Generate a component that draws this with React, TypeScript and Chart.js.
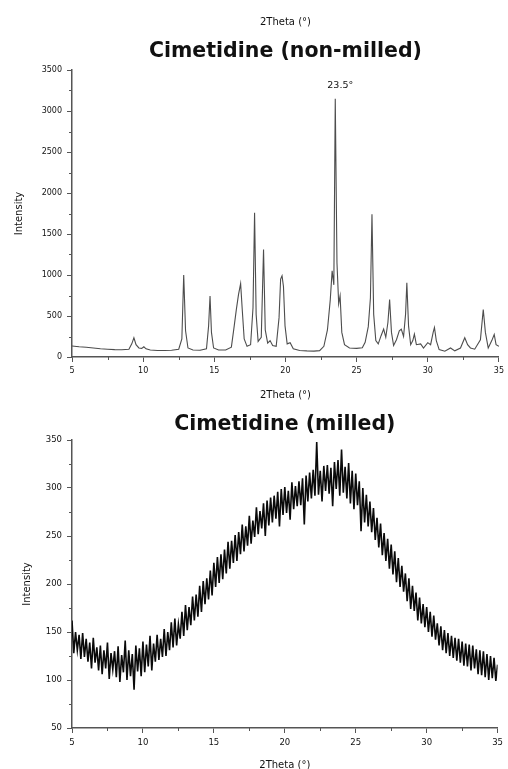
import React, { useEffect, useRef } from "react";
import { Chart, registerables } from "chart.js";

Chart.register(...registerables);

const FONT = '"DejaVu Sans", "Liberation Sans", sans-serif';
const TEXT_COLOR = "#111111";
const AXIS_COLOR = "#555555";

// ---------- Non-milled cimetidine (crystalline) ----------
const nonMilledTheta = [
  5.0, 5.5, 6.0, 6.5, 7.0, 7.5, 8.0, 8.5, 9.0, 9.2,
  9.35, 9.5, 9.7, 9.9, 10.05, 10.2, 10.5, 11.0, 11.5, 12.0,
  12.5, 12.72, 12.85, 12.98, 13.15, 13.5, 14.0, 14.45, 14.6, 14.7,
  14.8, 14.95, 15.3, 15.8, 16.2, 16.4, 16.55, 16.7, 16.85, 16.97,
  17.1, 17.3, 17.55, 17.72, 17.83, 17.94, 18.08, 18.3, 18.46, 18.58,
  18.75, 18.92, 19.1, 19.35, 19.55, 19.66, 19.76, 19.86, 19.97, 20.12,
  20.33, 20.55, 21.0, 21.5, 22.0, 22.4, 22.7, 22.95, 23.15, 23.28,
  23.4, 23.5, 23.62, 23.74, 23.84, 23.96, 24.15, 24.5, 25.0, 25.4,
  25.6, 25.82, 25.97, 26.08, 26.2, 26.35, 26.52, 26.72, 26.9, 27.05,
  27.2, 27.32, 27.45, 27.6, 27.8, 28.0, 28.14, 28.3, 28.44, 28.53,
  28.65, 28.8, 28.95, 29.06, 29.2, 29.5, 29.7, 30.0, 30.2, 30.38,
  30.47, 30.6, 30.8, 31.2, 31.6, 31.9, 32.3, 32.6, 32.8, 33.0,
  33.3, 33.7, 33.9, 34.05, 34.25, 34.5, 34.67, 34.8, 35.0,
];
const nonMilledIntensity = [
  135, 125, 118, 110, 100, 95, 90, 88, 95, 160,
  235, 150, 110, 105, 125, 100, 85, 80, 80, 82,
  95, 220, 1000, 320, 110, 85, 82, 100, 380, 745,
  300, 110, 85, 85, 120, 380, 580, 760, 895, 560,
  220, 130, 150, 600, 1760, 520, 190, 240, 1310, 330,
  170, 200, 140, 130, 480, 950, 990, 860, 380, 160,
  175, 100, 80, 75, 72, 78, 130, 330, 700, 1050,
  880, 3150, 1150, 650, 745, 300, 150, 110, 105, 112,
  180, 370, 720, 1740, 520, 200, 160, 260, 340, 240,
  420, 700, 300, 140, 210, 320, 340, 250, 520, 905,
  380, 150, 200, 280, 150, 160, 110, 175, 150, 300,
  360, 200, 90, 70, 110, 75, 110, 235, 150, 110,
  95, 210, 580, 300, 110, 200, 275, 150, 130,
];
const peakLabel = "23.5°";
const peakTheta = 23.5;
const peakIntensity = 3150;

// ---------- Milled cimetidine (amorphous) ----------
const milledStartTheta = 5;
const milledStepTheta = 0.125;
const milledIntensity = [
  162, 128, 150, 131, 147, 122, 149, 124,
  143, 119, 139, 112, 144, 118, 134, 110,
  136, 106, 131, 112, 139, 101, 128, 111,
  130, 103, 135, 98, 126, 108, 141, 100,
  131, 104, 127, 90, 136, 109, 133, 104,
  140, 108, 137, 114, 146, 110, 138, 119,
  147, 121, 143, 124, 153, 125, 150, 131,
  160, 134, 164, 136, 158, 143, 171, 146,
  178, 152, 176, 157, 187, 162, 189, 166,
  198, 171, 203, 179, 206, 184, 214, 188,
  222, 197, 228, 201, 231, 205, 236, 211,
  244, 216, 245, 222, 251, 224, 254, 231,
  262, 234, 260, 240, 271, 242, 266, 249,
  280, 252, 276, 258, 284, 250, 287, 261,
  290, 264, 292, 268, 296, 260, 299, 272,
  301, 274, 297, 267, 306, 278, 302, 281,
  307, 282, 310, 262, 313, 286, 316, 289,
  319, 292, 348, 293, 318, 286, 323, 297,
  324, 294, 321, 281, 327, 299, 329, 292,
  340, 295, 322, 289, 326, 284, 318, 278,
  315, 282, 307, 255, 300, 264, 293, 260,
  286, 254, 279, 246, 269, 238, 263, 230,
  253, 224, 247, 216, 241, 210, 234, 202,
  227, 197, 219, 192, 211, 182, 206, 174,
  198, 172, 191, 162, 186, 159, 179, 155,
  176, 150, 171, 145, 167, 142, 159, 136,
  156, 131, 152, 128, 149, 125, 146, 123,
  144, 120, 143, 118, 140, 115, 138, 114,
  137, 110, 136, 112, 132, 106, 131, 105,
  130, 103, 127, 100, 125, 102, 123, 99,
  116,
];

// ---------- Ticks ----------
const xMajorTicks = [5, 10, 15, 20, 25, 30, 35];
const xMinorTicks = [7.5, 12.5, 17.5, 22.5, 27.5, 32.5];
const topYMajorTicks = [0, 500, 1000, 1500, 2000, 2500, 3000, 3500];
const topYMinorTicks = [250, 750, 1250, 1750, 2250, 2750, 3250];
const botYMajorTicks = [50, 100, 150, 200, 250, 300, 350];
const botYMinorTicks = [75, 125, 175, 225, 275, 325];

const minorTicksPlugin = {
  id: "minorTicks",
  afterDraw(chart: any, _args: any, opts: any) {
    const { ctx, chartArea, scales } = chart;
    ctx.save();
    ctx.strokeStyle = AXIS_COLOR;
    ctx.lineWidth = 1;
    ctx.beginPath();
    for (const v of opts.xMinor || []) {
      const px = Math.round(scales.x.getPixelForValue(v)) + 0.5;
      ctx.moveTo(px, chartArea.bottom);
      ctx.lineTo(px, chartArea.bottom + 3);
    }
    for (const v of opts.yMinor || []) {
      const py = Math.round(scales.y.getPixelForValue(v)) + 0.5;
      ctx.moveTo(chartArea.left - 3, py);
      ctx.lineTo(chartArea.left, py);
    }
    ctx.stroke();
    ctx.restore();
  },
};

const peakLabelPlugin = {
  id: "peakLabel",
  afterDatasetsDraw(chart: any, _args: any, opts: any) {
    if (!opts || !opts.text) return;
    const { ctx, scales } = chart;
    const x = scales.x.getPixelForValue(opts.theta) + 5;
    const y = scales.y.getPixelForValue(opts.intensity) - 13;
    ctx.save();
    ctx.font = `9.5px ${FONT}`;
    ctx.fillStyle = TEXT_COLOR;
    ctx.textAlign = "center";
    ctx.textBaseline = "middle";
    ctx.fillText(opts.text, x, y);
    ctx.restore();
  },
};

function xScaleOptions(height: number, tickPad: number, titlePadBottom: number, fontSize: number) {
  return {
    type: "linear",
    min: 5,
    max: 35,
    afterBuildTicks: (s: any) => {
      s.ticks = xMajorTicks.map((v) => ({ value: v }));
    },
    afterFit: (s: any) => {
      s.height = height;
    },
    border: { display: true, color: AXIS_COLOR, width: 1.5 },
    grid: { display: true, drawOnChartArea: false, drawTicks: true, tickLength: 5, color: AXIS_COLOR, lineWidth: 1 },
    ticks: {
      font: { family: FONT, size: fontSize },
      color: TEXT_COLOR,
      padding: tickPad,
      maxRotation: 0,
      autoSkip: false,
      callback: (v: any) => String(v),
    },
    title: {
      display: true,
      text: "2Theta (°)",
      font: { family: FONT, size: 10 },
      color: TEXT_COLOR,
      padding: { top: 0, bottom: titlePadBottom },
    },
  };
}

function yScaleOptions(min: number, max: number, major: number[], titlePadTop: number, fontSize: number) {
  return {
    type: "linear",
    min,
    max,
    afterBuildTicks: (s: any) => {
      s.ticks = major.map((v) => ({ value: v }));
    },
    afterFit: (s: any) => {
      s.width = 72;
    },
    border: { display: true, color: AXIS_COLOR, width: 1.5 },
    grid: { display: true, drawOnChartArea: false, drawTicks: true, tickLength: 5, color: AXIS_COLOR, lineWidth: 1 },
    ticks: {
      font: { family: FONT, size: fontSize },
      color: TEXT_COLOR,
      padding: 5,
      autoSkip: false,
      callback: (v: any) => String(v),
    },
    title: {
      display: true,
      text: "Intensity",
      font: { family: FONT, size: 10 },
      color: TEXT_COLOR,
      padding: { top: titlePadTop, bottom: 0 },
    },
  };
}

function topConfig(): any {
  return {
    type: "line",
    data: {
      datasets: [
        {
          data: nonMilledTheta.map((t, i) => ({ x: t, y: nonMilledIntensity[i] })),
          borderColor: "#4d4d4d",
          borderWidth: 1.1,
          pointRadius: 0,
          tension: 0,
          fill: false,
        },
      ],
    },
    options: {
      responsive: false,
      animation: false,
      events: [],
      layout: { padding: { left: 0, right: 6, top: 0, bottom: 0 } },
      scales: {
        x: xScaleOptions(48, 4, 4, 8),
        y: yScaleOptions(0, 3500, topYMajorTicks, 13, 8),
      },
      plugins: {
        legend: { display: false },
        tooltip: { enabled: false },
        subtitle: {
          display: true,
          text: "2Theta (°)",
          weight: 3000,
          fullSize: false,
          font: { family: FONT, size: 10 },
          color: TEXT_COLOR,
          padding: { top: 16, bottom: 11.7 },
        },
        title: {
          display: true,
          text: "Cimetidine (non-milled)",
          fullSize: false,
          font: { family: FONT, size: 20.5, weight: "bold" },
          color: "#111111",
          padding: { top: 0, bottom: 5.7 },
        },
        minorTicks: { xMinor: xMinorTicks, yMinor: topYMinorTicks },
        peakLabel: { text: peakLabel, theta: peakTheta, intensity: peakIntensity },
      },
    },
    plugins: [minorTicksPlugin, peakLabelPlugin],
  };
}

function bottomConfig(): any {
  return {
    type: "line",
    data: {
      datasets: [
        {
          data: milledIntensity.map((v, i) => ({ x: milledStartTheta + i * milledStepTheta, y: v })),
          borderColor: "#0a0a0a",
          borderWidth: 1.6,
          pointRadius: 0,
          tension: 0,
          fill: false,
        },
      ],
    },
    options: {
      responsive: false,
      animation: false,
      events: [],
      layout: { padding: { left: 0, right: 6, top: 0, bottom: 0 } },
      scales: {
        x: xScaleOptions(47, 5, 4, 8.5),
        y: yScaleOptions(50, 350, botYMajorTicks, 21, 8.5),
      },
      plugins: {
        legend: { display: false },
        tooltip: { enabled: false },
        title: {
          display: true,
          text: "Cimetidine (milled)",
          fullSize: false,
          font: { family: FONT, size: 20.5, weight: "bold" },
          color: "#111111",
          padding: { top: 7.7, bottom: 2.7 },
        },
        minorTicks: { xMinor: xMinorTicks, yMinor: botYMinorTicks },
      },
    },
    plugins: [minorTicksPlugin],
  };
}

export default function App() {
  const topRef = useRef<HTMLCanvasElement>(null);
  const botRef = useRef<HTMLCanvasElement>(null);

  useEffect(() => {
    const c1 = new Chart(topRef.current as HTMLCanvasElement, topConfig());
    const c2 = new Chart(botRef.current as HTMLCanvasElement, bottomConfig());
    return () => {
      c1.destroy();
      c2.destroy();
    };
  }, []);

  return (
    <div
      style={{
        position: "fixed",
        left: 0,
        top: 0,
        width: 508,
        height: 769,
        overflow: "hidden",
        background: "#ffffff",
      }}
    >
      <canvas
        ref={topRef}
        width={508}
        height={405}
        style={{ position: "absolute", left: 0, top: 0, width: 508, height: 405 }}
      />
      <canvas
        ref={botRef}
        width={508}
        height={370}
        style={{ position: "absolute", left: 0, top: 405, width: 508, height: 370 }}
      />
    </div>
  );
}
